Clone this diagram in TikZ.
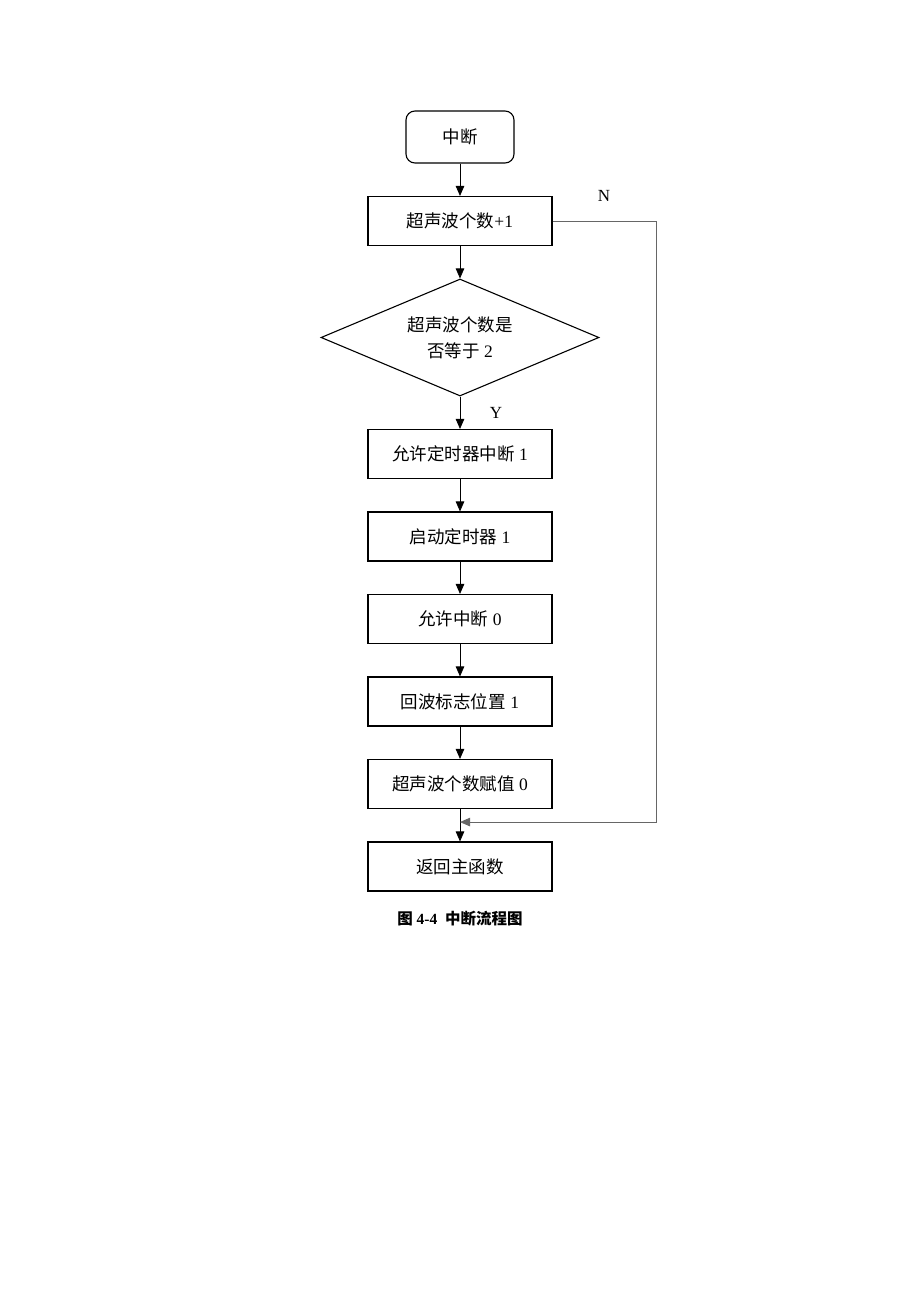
\documentclass[tikz,border=0pt]{standalone}
\usepackage{fontspec}
\setmainfont{Liberation Serif}
\newfontfamily\cjk{Noto Sans CJK SC}
\usetikzlibrary{positioning,shapes.geometric,arrows.meta}
\newcommand{\zh}[1]{{\cjk #1}}

\begin{document}
\begin{tikzpicture}[x=1pt,y=1pt,node distance=32.4pt,
	box/.style={rectangle,draw,line width=1.1pt,minimum width=184pt,minimum height=49pt,inner sep=2pt,font=\fontsize{17.5}{20}\selectfont},
	startbox/.style={box,rounded corners=9pt,minimum width=108pt,minimum height=52pt},
	decide/.style={diamond,draw,line width=1.1pt,aspect=2.4,inner sep=0pt,minimum width=278pt,minimum height=117pt,align=center,font=\fontsize{17.5}{26}\selectfont},
	flow/.style={draw,line width=0.8pt,-{Triangle[length=10pt,width=8.5pt]}},
	lbl/.style={font=\fontsize{17}{20}\selectfont}]
\useasboundingbox (0,0) rectangle (920,-1302);
\node [startbox] (start) at (460,-137) {\zh{中断}};
\node [box,below=of start] (count) {\zh{超声波个数}+1};
\node [decide,below=of count] (equal) {\zh{超声波个数是}\\\zh{否等于} 2};
\node [box,below=of equal] (tint) {\zh{允许定时器中断} 1};
\node [box,below=of tint] (tstart) {\zh{启动定时器} 1};
\node [box,below=of tstart] (iint) {\zh{允许中断} 0};
\node [box,below=of iint] (echo) {\zh{回波标志位置} 1};
\node [box,below=of echo] (reset) {\zh{超声波个数赋值} 0};
\node [box,below=of reset] (ret) {\zh{返回主函数}};
\coordinate [below=13pt of reset] (join);
\coordinate (corner) at (656,-221);
\node [lbl] (nlabel) at (604,-196) {N};
\node [lbl] (ylabel) at (496,-413) {Y};
\node [font=\fontsize{15.5}{18}\selectfont\bfseries] (caption) at (460,-919) {\zh{图} 4-4\ \ \zh{中断流程图}};
\draw [flow] (start) -- (count);
\draw [flow] (count) -- (equal);
\draw [flow] (equal) -- (tint);
\draw [flow] (tint) -- (tstart);
\draw [flow] (tstart) -- (iint);
\draw [flow] (iint) -- (echo);
\draw [flow] (echo) -- (reset);
\draw [flow] (reset) -- (ret);
\draw [flow,black!60] (count.east) -- (corner) |- (join);
\end{tikzpicture}
\end{document}
